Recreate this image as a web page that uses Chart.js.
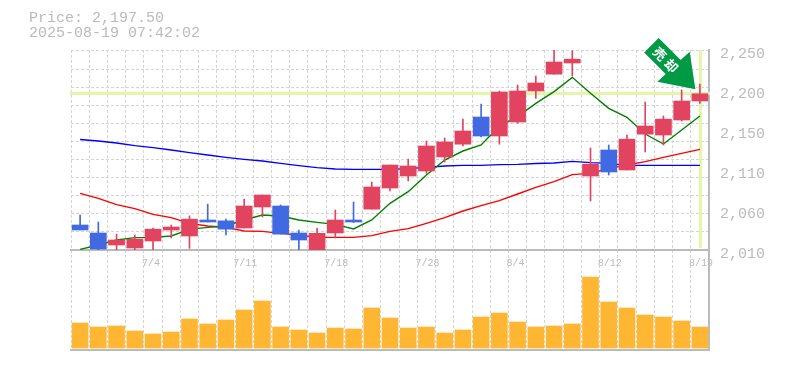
<!DOCTYPE html>
<html>
<head>
<meta charset="utf-8">
<script src="https://cdn.jsdelivr.net/npm/chart.js@4/dist/chart.umd.min.js"></script>
<style>
  html, body { margin:0; padding:0; background:#fff; }
  #wrap { position:relative; width:785px; height:370px; overflow:hidden; }
  #wrap canvas { position:absolute; left:0; }
  #priceChart { top:0; z-index:2; }
  #volChart { top:240px; z-index:1; }
  #info { position:absolute; left:29px; top:11px; z-index:3; color:#bbb;
          font:15px/15px "Liberation Mono", monospace; white-space:pre; }
</style>
</head>
<body>
<div id="wrap">
  <div id="info">Price: 2,197.50
2025-08-19 07:42:02</div>
  <canvas id="volChart" width="785" height="120"></canvas>
  <canvas id="priceChart" width="785" height="272"></canvas>
</div>
<script>
const dates = ["6/30","7/1","7/2","7/3","7/4","7/7","7/8","7/9","7/10","7/11","7/14","7/15","7/16","7/17","7/18",
  "7/22","7/23","7/24","7/25","7/28","7/29","7/30","7/31","8/1","8/4","8/5","8/6","8/7","8/8","8/12","8/13","8/14","8/15","8/18","8/19"];

const opens  = [2040,2030.4,2016,2012.4,2020.8,2034,2026.8,2046,2045,2036.4,2061.6,2062.8,2030.4,2010,2030.4,
  2046,2059,2084.4,2098.8,2104.8,2121.6,2137,2169.6,2146.8,2163.6,2200.8,2221,2234.4,2098.8,2130,2106,2149,2148,2166,2188.8];
const highs  = [2052,2043.6,2029,2028,2036.4,2040,2051,2065,2047,2071,2076,2064,2034,2036,2058,
  2067.6,2091.6,2112,2119,2140.8,2144.4,2167,2185,2200.8,2208,2218.8,2250,2249,2132.4,2136,2148,2187.6,2170.8,2202,2209];
const lows   = [2034,2010,2010,2010,2010,2024.4,2012,2043.6,2028,2036.4,2049.6,2029,2010,2010,2024.4,
  2043,2059,2080.8,2092.8,2102,2115.6,2134.8,2145.6,2137,2162,2192,2221,2218.8,2068.8,2100,2106,2127.6,2136,2164.8,2186];
const closes = [2034,2011.2,2022,2023,2035,2037.6,2047,2043.6,2035,2062.8,2076,2029,2022,2030,2046,
  2043.6,2085.6,2112,2110.8,2134.8,2139.6,2152.8,2146.8,2199.6,2200.8,2210.4,2235.6,2239,2113,2103.6,2143,2158.8,2167,2188.8,2197.5];

const maShort = [2010.8,2016,2022,2024.8,2025.2,2026.8,2034.8,2037.2,2038.8,2046,2052,2050.8,2046,2043.2,2040.8,
  2035.2,2046,2066,2080,2100,2118,2128.8,2136,2158.8,2170,2186,2200,2217.2,2198,2180,2169.2,2149.2,2137.2,2154,2170.8];
const maMid = [2078,2072,2064.4,2059.6,2052.8,2048.8,2042,2038.8,2037.2,2032.8,2032.4,2030,2028,2025.2,2025.2,
  2025.2,2027.2,2032.4,2035.6,2042,2048.8,2056.8,2063.2,2069.2,2077.2,2085.2,2092,2100.4,2102,2108,2112,2116,2121.2,2126,2130.8];
const maLong = [2142.6,2140.8,2138.4,2135.2,2132.8,2130,2126.8,2124,2121.2,2118.8,2116.8,2114,2111.2,2108.8,2107.2,
  2106.8,2106.8,2106.8,2107.6,2109.2,2110.8,2111.6,2111.6,2112.4,2112.8,2113.8,2114.4,2116.4,2114.8,2114,2111.6,2111.6,2111.6,2111.6,2111.6];

const volumes = [25,21,22,17,14,16,29,24,28,38,47,21,18,15,20,19,40,30,20,21,15,18,31,35,26,21,22,24,71,46,40,33,31,27,21];

const lastPrice = 2197.5;
const lastIndex = dates.length - 1;
const signalText = ["売", "却"];

const UP = "#E2435F", DOWN = "#4169E1";
const GRID = "#d4d4d4", AXIS = "#bbb", BAND = "#E4F7A8", LABEL = "#bbb";
const candleColors = closes.map((c, i) => c >= opens[i] ? UP : DOWN);
const PLOT_LEFT = 71, PLOT_RIGHT_GAP = 76;

// last price / last day cross, under the candles
const crossPlugin = {
  id: "cross",
  beforeDatasetsDraw(chart) {
    const { ctx, chartArea, scales } = chart;
    const y = scales.y.getPixelForValue(lastPrice);
    const x = scales.x.getPixelForValue(lastIndex);
    ctx.save();
    ctx.fillStyle = BAND;
    ctx.fillRect(chartArea.left - 1, Math.round(y) - 2, chartArea.width + 2, 3);
    ctx.fillRect(Math.round(x) - 1, chartArea.top, 3, chartArea.height - 2);
    ctx.restore();
  }
};

// signal arrow, hung off the tip above the last candle
const arrowPlugin = {
  id: "arrow",
  afterDatasetsDraw(chart) {
    const { ctx, scales } = chart;
    const tx = scales.x.getPixelForValue(lastIndex) - 4.5;
    const ty = scales.y.getPixelForValue(lastPrice) - 4.5;
    const pts = [[-5.7,-37.6],[-14.7,-29.3],[-36.7,-51.3],[-51.2,-36.8],[-29.7,-15.3],[-38,-7.6]];
    ctx.save();
    ctx.fillStyle = "#009944";
    ctx.beginPath();
    ctx.moveTo(tx, ty);
    pts.forEach(p => ctx.lineTo(tx + p[0], ty + p[1]));
    ctx.closePath();
    ctx.fill();
    ctx.fillStyle = "#fff";
    ctx.font = 'bold 13px "Noto Sans CJK JP"';
    ctx.textAlign = "center";
    ctx.textBaseline = "middle";
    [[-35.5,-35.5],[-24,-23.5]].forEach((p, i) => {
      ctx.save();
      ctx.translate(tx + p[0], ty + p[1]);
      ctx.rotate(Math.PI / 4);
      ctx.fillText(signalText[i], 0, 0);
      ctx.restore();
    });
    ctx.restore();
  }
};

function maLine(data, color, order) {
  return { type:"line", data, borderColor:color, borderWidth:1.4, pointRadius:0, tension:0, order };
}

new Chart(document.getElementById("priceChart"), {
  type: "bar",
  plugins: [crossPlugin, arrowPlugin],
  data: {
    labels: dates,
    datasets: [
      { data: opens.map((o, i) => [o, closes[i]]), backgroundColor: candleColors, barThickness:16,
        borderSkipped:false, grouped:false, order:0 },
      { data: lows.map((l, i) => [l, highs[i]]), backgroundColor: candleColors, barThickness:1,
        borderSkipped:false, grouped:false, order:1 },
      maLine(maShort, "#008000", 2),
      maLine(maMid, "#ff0000", 3),
      maLine(maLong, "#0000ff", 4)
    ]
  },
  options: {
    responsive:false,
    animation:false,
    events:[],
    layout:{ padding:{ left:PLOT_LEFT, top:50, right:0, bottom:0 } },
    plugins:{ legend:{ display:false }, tooltip:{ enabled:false } },
    scales:{
      x:{
        type:"category",
        offset:true,
        afterFit:(s)=>{ s.height = 22; },
        grid:{ offset:true, color:GRID, lineWidth:1, drawTicks:false },
        border:{ display:true, color:AXIS, width:2, dash:[3,2] },
        ticks:{
          autoSkip:false, maxRotation:0, minRotation:0, align:"start", labelOffset:-11, padding:7,
          color:LABEL, font:{ family:"Liberation Mono", size:10 },
          callback:(v, i)=> i % 5 === 4 ? dates[i] : ""
        }
      },
      y:{
        position:"right",
        min:2010, max:2250,
        afterFit:(s)=>{ s.width = PLOT_RIGHT_GAP; },
        grid:{ display:false, drawTicks:false },
        border:{ display:true, color:AXIS, width:2 },
        ticks:{
          stepSize:48, padding:11, labelOffset:4, crossAlign:"near",
          color:LABEL, font:{ family:"Liberation Mono", size:15 },
          callback:(v)=> (Math.round(v / 10) * 10).toLocaleString("en-US")
        }
      },
      gridY:{
        position:"left",
        min:0, max:11.05,
        afterFit:(s)=>{ s.width = 0; },
        grid:{ color:GRID, lineWidth:1, drawTicks:false },
        border:{ display:false, dash:[3,2] },
        ticks:{ display:false, stepSize:1 }
      }
    }
  }
});

new Chart(document.getElementById("volChart"), {
  type: "bar",
  data: {
    labels: dates,
    datasets: [{ data: volumes, backgroundColor:"#FFB733", barThickness:16, grouped:false }]
  },
  options: {
    responsive:false,
    animation:false,
    events:[],
    layout:{ padding:{ left:PLOT_LEFT, top:10, right:0, bottom:10 } },
    plugins:{ legend:{ display:false }, tooltip:{ enabled:false } },
    scales:{
      x:{
        type:"category",
        offset:true,
        afterFit:(s)=>{ s.height = 0; },
        grid:{ offset:true, color:GRID, lineWidth:1, drawTicks:false },
        border:{ display:true, color:AXIS, width:2, dash:[3,2] },
        ticks:{ display:false }
      },
      y:{
        position:"right",
        min:-2, max:98,
        afterFit:(s)=>{ s.width = PLOT_RIGHT_GAP; },
        grid:{ display:false, drawTicks:false },
        border:{ display:true, color:AXIS, width:2 },
        ticks:{ display:false }
      }
    }
  }
});
</script>
</body>
</html>
